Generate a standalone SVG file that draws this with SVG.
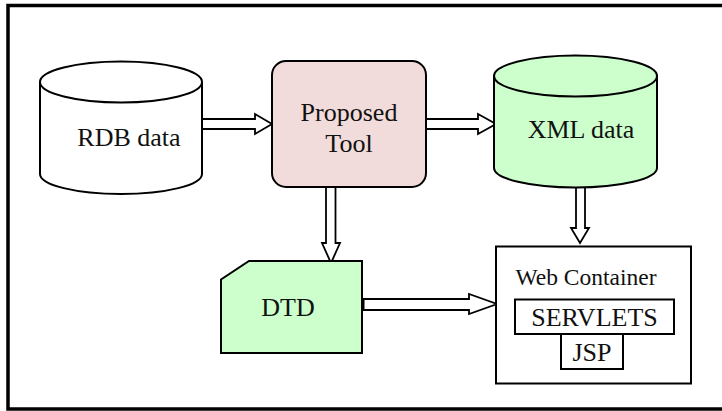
<svg xmlns="http://www.w3.org/2000/svg" width="722" height="411" viewBox="0 0 722 411">
<style>
.shape{stroke:#000;stroke-width:2}
.arrow{fill:#fff;stroke:#000;stroke-width:1.8;stroke-linejoin:miter}
.lbl{font-family:"Liberation Serif","Times New Roman",serif;font-size:26px;fill:#111;text-anchor:middle}
</style>
<rect x="0" y="0" width="722" height="411" fill="#fff"/>
<rect x="8" y="5.5" width="720" height="403.5" fill="none" stroke="#000" stroke-width="3.5"/>
<g id="connectors">
<path class="arrow" d="M202,119 H255 V114 L272,124 L255,134 V129 H202 Z"/>
<path class="arrow" d="M426,119 H478 V114 L496,124 L478,134 V129 H426 Z"/>
<path class="arrow" d="M326,187 V243 H322 L331,263 L340,243 H335.5 V187 Z"/>
<path class="arrow" d="M576,183 V228 H571 L580,243 L589,228 H585 V183 Z"/>
<path class="arrow" d="M362,299 H469 V294 L497,304 L469,314 V310 H362 Z"/>
<line x1="363" y1="299" x2="363" y2="310" stroke="#000" stroke-width="3"/>
</g>
<g id="rdb">
<path class="shape" fill="#fff" d="M40,82 V174 A81,20 0 0 0 202,174 V82"/>
<ellipse class="shape" fill="#fff" cx="121" cy="82" rx="81" ry="20.5"/>
<text class="lbl" x="129" y="146">RDB data</text>
</g>
<g id="tool">
<rect class="shape" fill="#f2dcdb" x="272" y="61" width="154" height="126" rx="14"/>
<text class="lbl" x="349" y="121">Proposed</text>
<text class="lbl" x="349" y="152">Tool</text>
</g>
<g id="xml">
<path class="shape" fill="#ccffcc" d="M494,76 V168 A81.5,19.5 0 0 0 657,168 V76"/>
<ellipse class="shape" fill="#ccffcc" cx="575.5" cy="76" rx="81.5" ry="20.5"/>
<text class="lbl" x="581" y="138">XML data</text>
</g>
<g id="dtd">
<path class="shape" fill="#ccffcc" d="M249,261 H362 V353 H221 V279.5 Z"/>
<text class="lbl" x="288" y="316">DTD</text>
</g>
<g id="web">
<rect class="shape" fill="#fff" x="496" y="246.5" width="195" height="137"/>
<text class="lbl" x="586" y="285" style="font-size:23.5px">Web Container</text>
<rect class="shape" fill="#fff" x="515" y="299.5" width="159" height="34.5"/>
<text class="lbl" x="594.5" y="326">SERVLETS</text>
<rect class="shape" fill="#fff" x="561" y="334" width="62" height="35"/>
<text class="lbl" x="592" y="361">JSP</text>
</g>
</svg>
